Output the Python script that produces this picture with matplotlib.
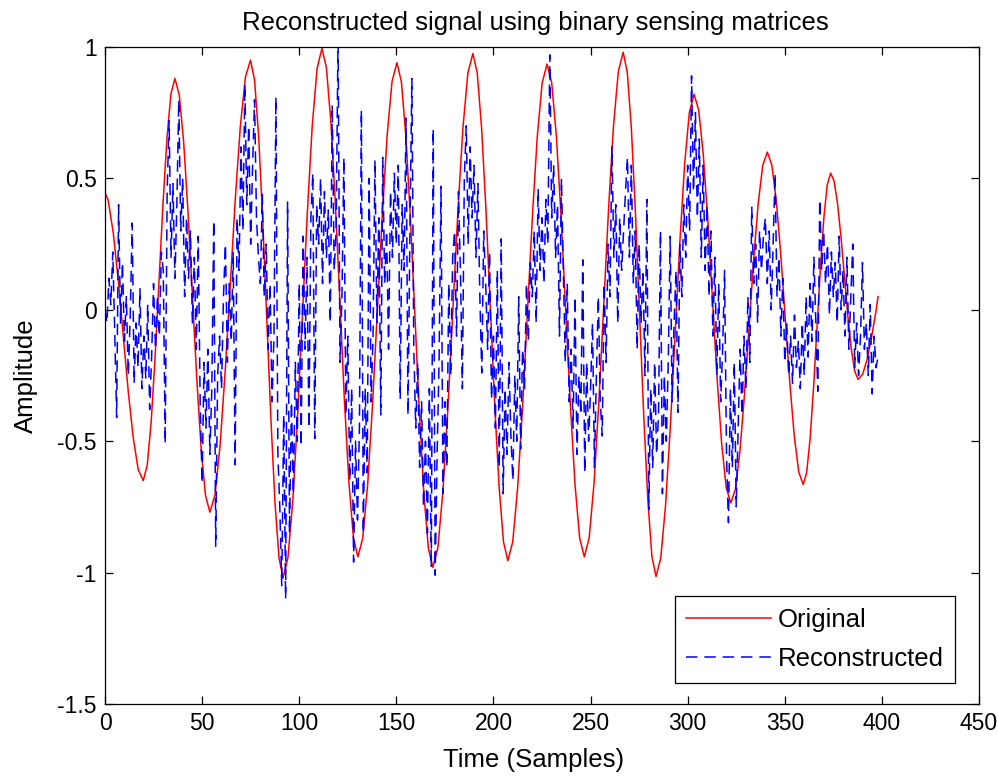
import numpy as np
import matplotlib
matplotlib.use('Agg')
import matplotlib.pyplot as plt

plt.rcParams['font.family'] = ['Liberation Sans', 'DejaVu Sans']
plt.rcParams['axes.unicode_minus'] = False

orig_t = [0, 1.59, 4.18, 6.76, 9.35, 11.94, 14.53, 17.11, 19.7,
          21.74, 23.78, 25.81, 27.85, 29.89, 31.93, 33.96, 36.0,
          38.25, 40.5, 42.75, 45.0, 47.25, 49.5, 51.75, 54.0,
          56.61, 59.23, 61.84, 64.45, 67.06, 69.68, 72.29, 74.9,
          77.0, 79.1, 81.2, 83.3, 85.4, 87.5, 89.6, 91.7,
          94.2, 96.7, 99.2, 101.7, 104.2, 106.7, 109.2, 111.7,
          114.01, 116.33, 118.64, 120.95, 123.26, 125.58, 127.89, 130.2,
          132.71, 135.23, 137.74, 140.25, 142.76, 145.28, 147.79, 150.3,
          152.61, 154.93, 157.24, 159.55, 161.86, 164.18, 166.49, 168.8,
          171.38, 173.95, 176.53, 179.1, 181.68, 184.25, 186.83, 189.4,
          191.65, 193.9, 196.15, 198.4, 200.65, 202.9, 205.15, 207.4,
          209.93, 212.45, 214.98, 217.5, 220.03, 222.55, 225.08, 227.6,
          230.0, 232.4, 234.8, 237.2, 239.6, 242.0, 244.4, 246.8,
          249.3, 251.8, 254.3, 256.8, 259.3, 261.8, 264.3, 266.8,
          268.91, 271.03, 273.14, 275.25, 277.36, 279.48, 281.59, 283.7,
          286.15, 288.6, 291.05, 293.5, 295.95, 298.4, 300.85, 303.3,
          305.66, 308.03, 310.39, 312.75, 315.11, 317.48, 319.84, 322.2,
          324.55, 326.9, 329.25, 331.6, 333.95, 336.3, 338.65, 341.0,
          343.31, 345.63, 347.94, 350.25, 352.56, 354.88, 357.19, 359.5,
          361.26, 363.03, 364.79, 366.55, 368.31, 370.08, 371.84, 373.6,
          375.38, 377.15, 378.93, 380.7, 382.48, 384.25, 386.03, 387.8,
          390.08, 392.35, 394.63, 396.9, 398.0]
orig_v = [0.445, 0.418, 0.297, 0.118, -0.095, -0.308, -0.487, -0.608, -0.65,
          -0.592, -0.426, -0.178, 0.115, 0.408, 0.656, 0.822, 0.88,
          0.817, 0.638, 0.371, 0.055, -0.261, -0.528, -0.707, -0.77,
          -0.705, -0.518, -0.239, 0.09, 0.419, 0.698, 0.885, 0.95,
          0.875, 0.661, 0.342, -0.035, -0.412, -0.731, -0.945, -1.02,
          -0.943, -0.725, -0.398, -0.013, 0.373, 0.700, 0.918, 0.995,
          0.921, 0.711, 0.398, 0.028, -0.343, -0.656, -0.866, -0.94,
          -0.869, -0.665, -0.360, 0.0, 0.360, 0.665, 0.869, 0.94,
          0.867, 0.659, 0.348, -0.02, -0.388, -0.699, -0.907, -0.98,
          -0.906, -0.694, -0.377, -0.003, 0.372, 0.689, 0.901, 0.975,
          0.902, 0.692, 0.380, 0.01, -0.360, -0.672, -0.882, -0.955,
          -0.883, -0.678, -0.372, -0.01, 0.352, 0.658, 0.863, 0.935,
          0.864, 0.660, 0.357, -0.003, -0.362, -0.665, -0.869, -0.94,
          -0.867, -0.659, -0.348, 0.02, 0.388, 0.699, 0.907, 0.98,
          0.904, 0.688, 0.365, -0.018, -0.400, -0.723, -0.939, -1.015,
          -0.945, -0.746, -0.449, -0.098, 0.254, 0.551, 0.750, 0.82,
          0.761, 0.592, 0.340, 0.043, -0.255, -0.507, -0.676, -0.735,
          -0.684, -0.539, -0.323, -0.068, 0.188, 0.404, 0.549, 0.60,
          0.552, 0.415, 0.210, -0.033, -0.275, -0.480, -0.617, -0.665,
          -0.620, -0.491, -0.299, -0.073, 0.154, 0.346, 0.475, 0.52,
          0.490, 0.405, 0.278, 0.128, -0.023, -0.150, -0.235, -0.265,
          -0.245, -0.190, -0.106, -0.008, 0.05]

# reconstructed signal, one value per sample (0..398)
recon = [0.00, -0.05, 0.12, 0.02, 0.22, -0.08, -0.41, 0.40, -0.05, 0.18,
         -0.12, 0.05, -0.25, -0.02, 0.33, -0.28, -0.05, -0.22, 0.08, -0.30,
         -0.10, -0.26, 0.02, -0.38, -0.18, 0.10, -0.15, 0.05, -0.10, 0.22,
         0.15, -0.51, 0.45, 0.72, 0.20, 0.48, 0.12, 0.40, 0.80, 0.30,
         0.50, 0.05, 0.35, 0.12, 0.30, -0.05, 0.20, -0.15, 0.28, -0.35,
         -0.66, -0.20, -0.45, -0.15, -0.55, -0.30, 0.34, -0.90, -0.25, -0.10,
         -0.30, 0.05, 0.25, -0.20, 0.10, -0.12, 0.22, -0.59, 0.35, 0.15,
         0.62, 0.30, 0.86, 0.40, 0.70, 0.25, 0.55, 0.80, 0.35, 0.20,
         0.10, 0.44, 0.05, 0.25, -0.15, 0.10, -0.35, -0.10, 0.81, -0.55,
         -0.75, -1.05, -0.40, -1.10, 0.41, -0.85, -0.35, -0.70, -0.20, -0.50,
         0.10, -0.52, 0.28, -0.15, 0.20, -0.45, 0.35, 0.52, -0.49, 0.40,
         0.25, 0.50, 0.10, 0.45, 0.20, 0.38, -0.05, 0.78, 0.15, 0.30,
         1.05, -0.20, 0.05, 0.58, -0.40, -0.10, -0.65, -0.30, -0.96, -0.50,
         -0.80, -0.45, 0.76, -0.85, -0.30, -0.62, 0.50, -0.35, -0.10, 0.57,
         -0.05, 0.35, -0.40, 0.58, 0.10, 0.30, -0.15, 0.45, 0.20, 0.52,
         0.25, 0.55, -0.34, 0.40, 0.15, 0.73, -0.40, 0.30, 0.88, -0.15,
         -0.45, -0.20, -0.60, -0.35, -0.75, -0.50, -0.85, -0.30, -0.98, 0.69,
         -1.01, -0.55, -0.20, 0.47, -0.70, -0.35, -0.60, 0.10, -0.25, 0.20,
         0.30, -0.10, 0.45, 0.15, -0.30, 0.50, 0.70, 0.25, 0.62, 0.35,
         0.55, 0.20, 0.48, 0.05, -0.24, 0.30, 0.10, -0.15, 0.22, -0.34,
         -0.10, -0.45, 0.15, -0.60, 0.27, -0.70, -0.30, -0.55, -0.20, -0.48,
         -0.65, -0.25, -0.50, 0.05, -0.53, -0.15, -0.30, 0.10, -0.12, 0.18,
         0.05, 0.30, -0.05, 0.46, 0.15, 0.35, 0.10, 0.42, 0.25, 0.97,
         0.35, 0.55, 0.20, 0.40, -0.10, 0.50, 0.15, -0.20, 0.10, -0.35,
         -0.15, -0.45, 0.05, -0.55, -0.25, -0.40, 0.19, -0.62, -0.20, -0.50,
         -0.30, -0.05, -0.60, -0.25, 0.05, -0.35, -0.48, 0.10, -0.20, 0.25,
         0.05, 0.62, 0.20, 0.40, -0.05, 0.35, 0.15, 0.30, 0.45, 0.58,
         0.20, 0.55, 0.10, 0.30, -0.15, 0.25, -0.05, 0.15, -0.25, 0.42,
         -0.76, -0.30, -0.60, -0.20, -0.55, -0.40, 0.30, -0.70, -0.25, -0.50,
         -0.20, 0.28, -0.35, -0.05, 0.15, -0.39, 0.25, 0.05, 0.40, 0.20,
         0.55, 0.30, 0.89, 0.45, 0.75, 0.35, 0.65, 0.20, 0.55, 0.15,
         0.40, 0.05, 0.30, -0.10, 0.20, -0.25, 0.10, -0.35, -0.15, 0.15,
         -0.55, -0.81, -0.30, -0.60, -0.20, -0.75, -0.45, -0.15, -0.40, -0.10,
         -0.30, 0.05, -0.20, 0.39, 0.10, 0.25, -0.05, 0.30, 0.15, 0.28,
         0.35, 0.10, 0.30, 0.00, 0.25, 0.52, 0.05, 0.20, -0.10, 0.12,
         -0.20, -0.05, -0.25, -0.10, -0.28, -0.02, -0.22, -0.12, -0.30, -0.05,
         -0.25, 0.05, -0.18, 0.10, -0.12, 0.20, -0.05, -0.31, 0.42, 0.15,
         0.30, 0.10, 0.25, -0.02, 0.22, 0.05, 0.18, -0.05, 0.28, 0.00,
         0.15, -0.10, 0.20, -0.15, 0.05, 0.25, -0.22, -0.05, -0.25, -0.10,
         0.18, -0.15, -0.05, -0.25, 0.02, -0.32, -0.10, -0.22, -0.18]

yticks = [-1.5, -1, -0.5, 0, 0.5, 1]
ytick_labels = ['-1.5', '-1', '-0.5', '0', '0.5', '1']
xticks = [0, 50, 100, 150, 200, 250, 300, 350, 400, 450]

fs_tick = 16.5
fs_text = 18.5

fig = plt.figure(figsize=(9.98, 7.79), dpi=100)
ax = fig.add_axes([105 / 998, 75 / 779, 874 / 998, 657 / 779])

ax.plot(orig_t, orig_v, color='red', lw=1.1, label='Original')
ax.plot(np.arange(len(recon)), recon, color='blue', lw=1.1,
        dashes=(7.5, 4.5), label='Reconstructed')

ax.set_xlim(0, 450)
ax.set_ylim(-1.5, 1)
ax.set_xticks(xticks)
ax.set_yticks(yticks)
ax.set_yticklabels(ytick_labels)
ax.tick_params(direction='in', length=6, width=0.9, top=True, right=True,
               labelsize=fs_tick, pad=6)
for s in ax.spines.values():
    s.set_linewidth(0.9)

ax.set_title('Reconstructed signal using binary sensing matrices',
             fontsize=fs_text, pad=12, x=0.492)
ax.set_xlabel('Time (Samples)', fontsize=fs_text, labelpad=9, x=0.49)
ax.set_ylabel('Amplitude', fontsize=fs_text, labelpad=14)

leg = ax.legend(loc='lower right', bbox_to_anchor=(955 / 998, 96 / 779),
                bbox_transform=fig.transFigure, borderaxespad=0,
                fontsize=fs_text, fancybox=False, framealpha=1, edgecolor='black',
                handlelength=3.3, handletextpad=0.25, borderpad=0.45,
                labelspacing=0.6)
leg.get_frame().set_linewidth(0.9)

fig.savefig('out.png', dpi=100)
